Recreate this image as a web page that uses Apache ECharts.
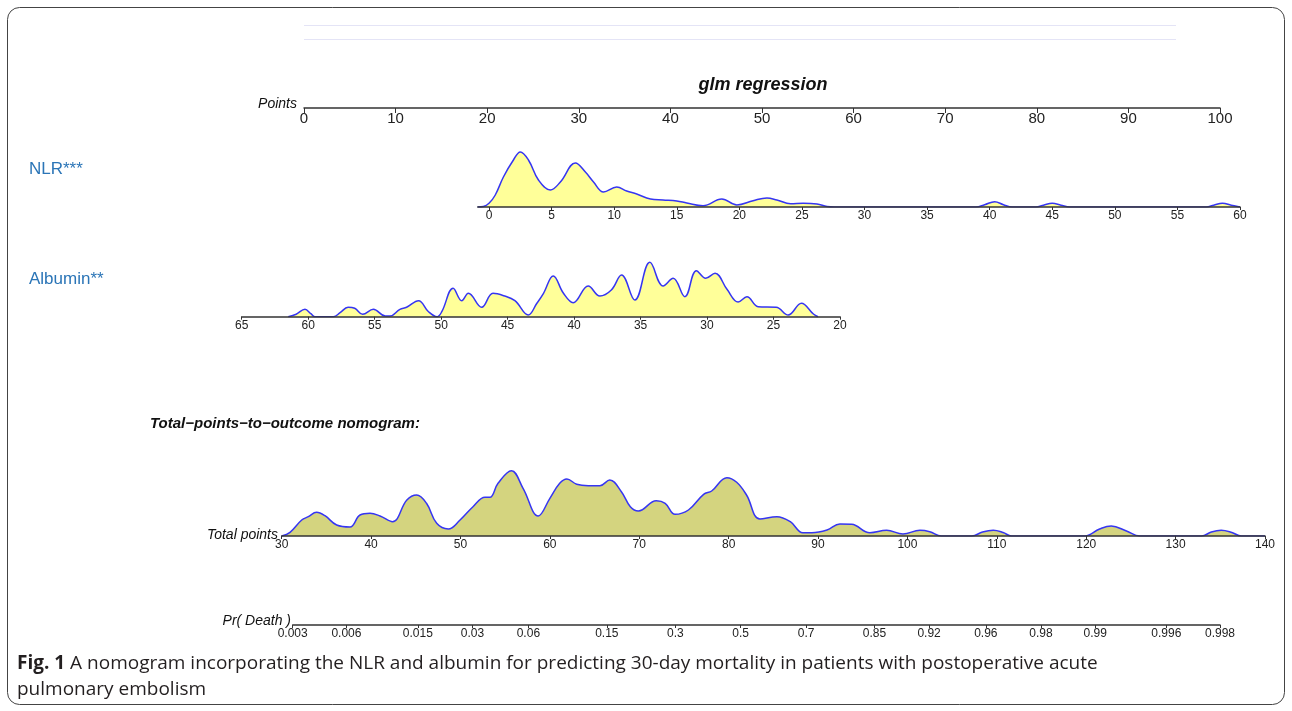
<!DOCTYPE html>
<html><head><meta charset="utf-8">
<script src="https://cdn.jsdelivr.net/npm/echarts@6/dist/echarts.min.js"></script>
<style>html,body{margin:0;padding:0;background:#fff}#c{width:1292px;height:711px}</style>
</head><body><div id="c"></div>
<script>
// ---- data ----
const POINTS_TICKS = [0,10,20,30,40,50,60,70,80,90,100];
const NLR_TICKS = [0,5,10,15,20,25,30,35,40,45,50,55,60];
const ALB_TICKS = [20,25,30,35,40,45,50,55,60,65];
const TOTAL_TICKS = [30,40,50,60,70,80,90,100,110,120,130,140];
const PR_LABELS = ['0.003','0.006','0.015','0.03','0.06','0.15','0.3','0.5','0.7','0.85','0.92','0.96','0.98','0.99','0.996','0.998'];

// relative density (x value, height)
const NLR_DENSITY = [[-0.9,0],[-0.45,0.5],[0,3.7],[0.5,12],[1.15,30],[1.95,47],[2.5,55],[3.15,47],[3.95,27],[4.9,17],[5.7,25],[6.9,44],[7.7,35],[8.35,25],[9.15,15],[10.2,20],[11.0,16],[11.8,13],[12.9,8],[13.9,7],[15.0,6],[15.8,4],[17.1,1.3],[18.6,8],[19.8,2],[21.1,6.3],[22.2,9],[23.0,7],[24.1,3.3],[25.1,3.7],[26.2,3],[27.0,0.5],[27.6,0],[38.9,0],[39.6,2.3],[40.4,5.3],[41.1,2.3],[41.8,0],[43.7,0],[44.3,1.8],[45.0,3.7],[45.7,1.8],[46.4,0],[57.3,0],[57.9,1.8],[58.6,3.7],[59.3,1.8],[60,0]];
const ALB_DENSITY = [[61.5,0],[60.9,2.5],[60.24,7.4],[59.8,3],[59.5,0],[58.1,0],[57.6,4],[57.0,9.4],[56.5,8.4],[55.9,2.4],[55.1,7.4],[54.2,0.7],[53.85,0.7],[53.1,7.4],[52.6,9.4],[51.7,16],[50.95,5],[50.3,0],[49.95,5],[49.1,28.4],[48.45,16],[47.95,23.4],[46.95,9.4],[46.1,23.4],[45.3,21],[44.45,16],[43.45,1.7],[42.8,13.4],[42.3,23.4],[41.57,40.7],[40.8,23.4],[40.07,14],[38.94,30.7],[38.06,20.7],[37.2,26.7],[36.43,41.7],[35.43,16.7],[34.3,54.4],[33.3,30.7],[32.55,38.4],[31.67,20],[30.8,46],[30.1,38.4],[29.4,43.4],[28.5,27.4],[27.66,14.7],[27.0,20],[26.16,10],[24.8,9.4],[23.9,1.7],[22.9,13.4],[22.0,2.7],[21.65,0]];
const TOTAL_DENSITY = [[30,0],[30.93,3.7],[32.24,16],[32.98,19.3],[33.9,23.7],[34.84,20.3],[36.15,11],[37.64,9],[38.76,21],[39.88,22.7],[41.0,20],[42.4,14.3],[44.0,36],[45.1,41],[46.2,32.7],[47.34,12.7],[48.64,7],[49.95,16],[51.4,29.3],[52.74,38.7],[53.3,38.7],[54.2,52.7],[55.7,65.3],[57.0,47.7],[58.7,20],[60.0,37.7],[61.1,52.7],[61.9,57],[63.0,51.7],[64.3,50.3],[65.6,50.3],[66.7,56],[68.0,44.3],[69.0,29.3],[69.9,25],[71.9,35.3],[72.9,32.7],[74.0,21.7],[75.5,26],[77.2,41.7],[78.1,45],[79.8,58.3],[80.9,53.7],[82.0,41],[83.5,17],[85.4,19.3],[86.9,14.3],[88.3,3.3],[89.3,3.3],[91.0,6],[92.45,12],[93.76,11.7],[95.8,3.3],[97.67,5.7],[99.5,2],[101.4,5.7],[102.5,4.3],[103.8,0],[107.2,0],[108.4,4],[109.6,5.7],[110.7,3.5],[111.65,0],[119.85,0],[121.5,7],[122.8,10],[124.5,5],[126.0,0],[132.9,0],[134.0,4],[135.1,5.7],[136.3,3.5],[137.35,0],[140,0]];

// ---- helpers ----
const logit = p => Math.log(p / (1 - p));
const PR_POS = PR_LABELS.map(s => logit(parseFloat(s)));
const FF = '"Liberation Sans", Arial, sans-serif';
const AX_COLOR = '#333';
const LINE_BLUE = '#3535f2';

function xAx(gi, o) {
  return Object.assign({
    type: 'value', gridIndex: gi, z: 5,
    axisLine: { show: true, lineStyle: { color: AX_COLOR, width: 1.5 } },
    axisTick: { show: true, length: 3, lineStyle: { color: AX_COLOR, width: 1 } },
    axisLabel: { fontSize: 12, color: '#222', margin: 3, fontFamily: FF },
    splitLine: { show: false }
  }, o);
}
function yAx(gi, max) {
  return { type: 'value', gridIndex: gi, min: 0, max: max, show: false, splitLine: { show: false } };
}
function dens(idx, data, fill) {
  return {
    type: 'line', xAxisIndex: idx, yAxisIndex: idx, data: data,
    smooth: 0.4, showSymbol: false, symbol: 'none', z: 2,
    lineStyle: { color: LINE_BLUE, width: 1.5 },
    areaStyle: { color: fill, opacity: 1 }
  };
}

const chart = echarts.init(document.getElementById('c'), null, { renderer: 'canvas' });
const option = {
  animation: false,
  backgroundColor: '#fff',
  grid: [
    { left: 304, width: 916, top: 100, height: 8 },
    { left: 477.75, width: 762.25, top: 145, height: 62 },
    { left: 241.7, width: 598.3, top: 256.7, height: 60 },
    { left: 281.7, width: 983.3, top: 464, height: 72 },
    { left: 292.7, width: 927.3, top: 617, height: 8 }
  ],
  xAxis: [
    xAx(0, { min: POINTS_TICKS[0], max: POINTS_TICKS[POINTS_TICKS.length-1], interval: 10,
      axisTick: { show: true, length: 5, lineStyle: { color: AX_COLOR } },
      axisLabel: { fontSize: 15, color: '#222', margin: 3, fontFamily: FF } }),
    xAx(1, { min: -0.9, max: 60,
      axisTick: { show: true, length: 3, customValues: NLR_TICKS, lineStyle: { color: AX_COLOR } },
      axisLabel: { fontSize: 12, color: '#222', margin: 3, fontFamily: FF, customValues: NLR_TICKS } }),
    xAx(2, { min: ALB_TICKS[0], max: ALB_TICKS[ALB_TICKS.length-1], interval: 5, inverse: true }),
    xAx(3, { min: TOTAL_TICKS[0], max: TOTAL_TICKS[TOTAL_TICKS.length-1], interval: 10 }),
    xAx(4, { min: PR_POS[0], max: PR_POS[PR_POS.length-1],
      axisTick: { show: true, length: 3, customValues: PR_POS, lineStyle: { color: AX_COLOR } },
      axisLabel: { fontSize: 12, color: '#222', margin: 3, fontFamily: FF, customValues: PR_POS,
        formatter: function (v) {
          let b = 0, d = Infinity;
          PR_POS.forEach((p, i) => { const e = Math.abs(p - v); if (e < d) { d = e; b = i; } });
          return PR_LABELS[b];
        } } })
  ],
  yAxis: [yAx(0, 1), yAx(1, 62), yAx(2, 60), yAx(3, 72), yAx(4, 1)],
  series: [
    dens(1, NLR_DENSITY, '#ffff99'),
    dens(2, ALB_DENSITY, '#ffff99'),
    dens(3, TOTAL_DENSITY, '#d4d47f')
  ],
  graphic: [
    { type: 'rect', shape: { x: 7.5, y: 7.5, width: 1277, height: 697, r: 12 }, style: { fill: 'none', stroke: '#444', lineWidth: 1 }, silent: true },
    { type: 'line', shape: { x1: 304, y1: 25.5, x2: 1176, y2: 25.5 }, style: { stroke: '#e4e4f6', lineWidth: 1 } },
    { type: 'line', shape: { x1: 304, y1: 39.5, x2: 1176, y2: 39.5 }, style: { stroke: '#e4e4f6', lineWidth: 1 } },
    { type: 'text', x: 763, y: 85, style: { text: 'glm regression', font: 'italic bold 18px ' + FF, fill: '#111', align: 'center', verticalAlign: 'middle', textAlign: 'center', textVerticalAlign: 'middle' } },
    { type: 'text', x: 297, y: 104, style: { text: 'Points', font: 'italic 14px ' + FF, fill: '#111', align: 'right', verticalAlign: 'middle', textAlign: 'right', textVerticalAlign: 'middle' } },
    { type: 'text', x: 29, y: 169, style: { text: 'NLR***', font: '17px ' + FF, fill: '#2b75b7', align: 'left', verticalAlign: 'middle', textAlign: 'left', textVerticalAlign: 'middle' } },
    { type: 'text', x: 29, y: 279, style: { text: 'Albumin**', font: '17px ' + FF, fill: '#2b75b7', align: 'left', verticalAlign: 'middle', textAlign: 'left', textVerticalAlign: 'middle' } },
    { type: 'text', x: 150, y: 424, style: { text: 'Total\u2212points\u2212to\u2212outcome nomogram:', font: 'italic bold 15px ' + FF, fill: '#111', align: 'left', verticalAlign: 'middle', textAlign: 'left', textVerticalAlign: 'middle' } },
    { type: 'text', x: 278, y: 535, style: { text: 'Total points', font: 'italic 14px ' + FF, fill: '#111', align: 'right', verticalAlign: 'middle', textAlign: 'right', textVerticalAlign: 'middle' } },
    { type: 'text', x: 291, y: 621, style: { text: 'Pr( Death )', font: 'italic 14px ' + FF, fill: '#111', align: 'right', verticalAlign: 'middle', textAlign: 'right', textVerticalAlign: 'middle' } },
    { type: 'text', x: 17, y: 664, style: { text: '{b|Fig. 1} A nomogram incorporating the NLR and albumin for predicting 30-day mortality in patients with postoperative acute', font: '19px "Open Sans", sans-serif', fill: '#231f20', align: 'left', verticalAlign: 'middle', textAlign: 'left', textVerticalAlign: 'middle',
      rich: { b: { fontWeight: 'bold', fontSize: 19, fontFamily: '"Open Sans", sans-serif', fill: '#231f20', color: '#231f20' } } } },
    { type: 'text', x: 17, y: 690, style: { text: 'pulmonary embolism', font: '19px "Open Sans", sans-serif', fill: '#231f20', align: 'left', verticalAlign: 'middle', textAlign: 'left', textVerticalAlign: 'middle' } }
  ]
};
chart.setOption(option);
</script></body></html>
